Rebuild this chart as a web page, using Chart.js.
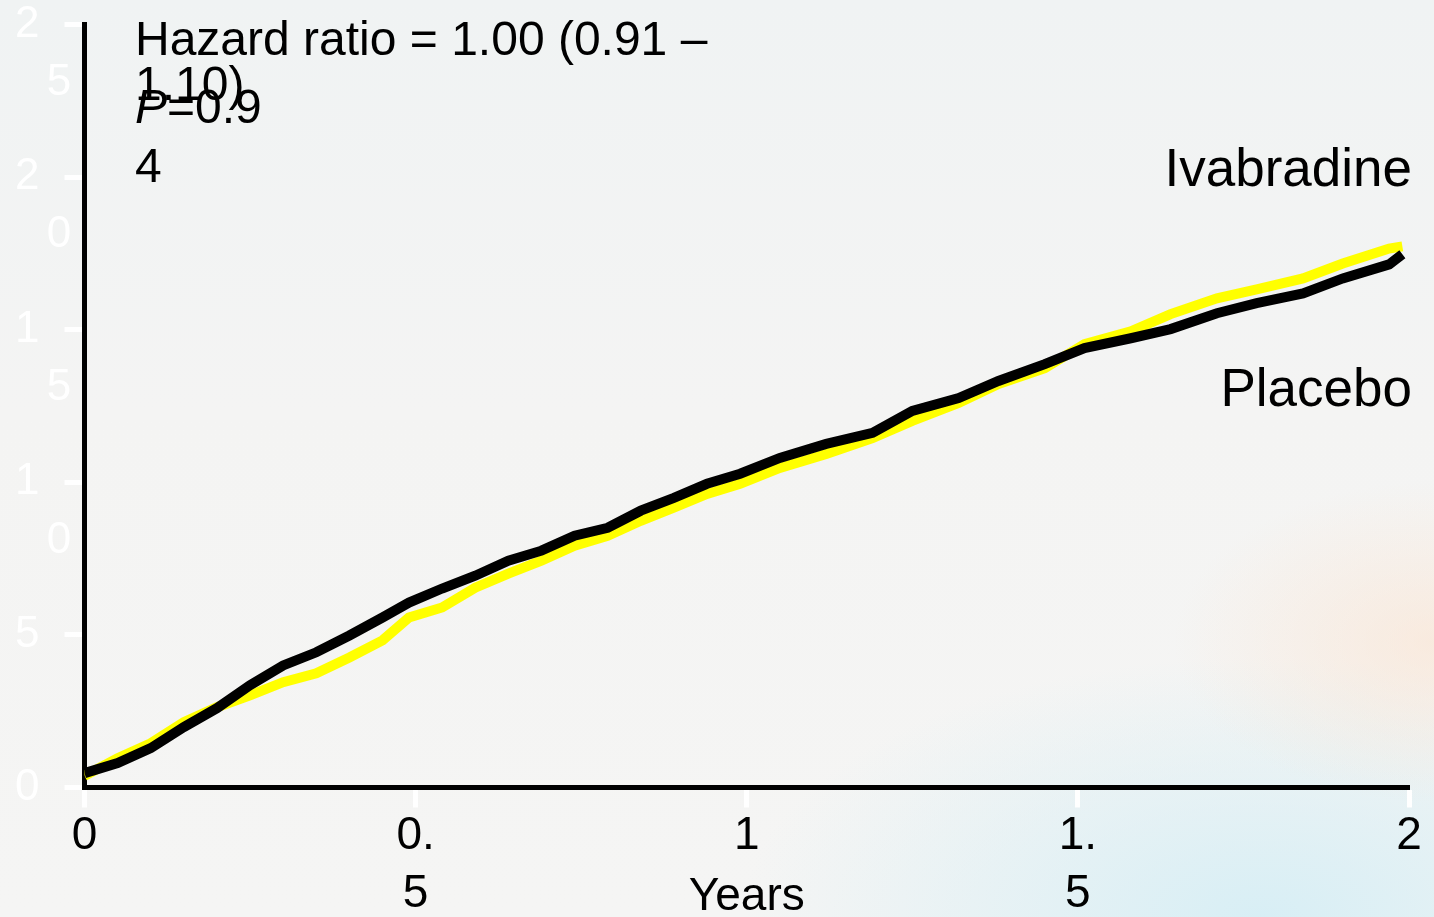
<!DOCTYPE html>
<html>
<head>
<meta charset="utf-8">
<script src="https://cdn.jsdelivr.net/npm/chart.js@4.4.0/dist/chart.umd.min.js"></script>
<style>
  html, body { margin: 0; padding: 0; width: 1434px; height: 917px; overflow: hidden; }
  body {
    background:
      radial-gradient(ellipse 260px 160px at 100% 70%, rgba(252, 226, 205, 0.55), rgba(252, 226, 205, 0) 100%),
      radial-gradient(ellipse 520px 260px at 88% 100%, rgba(214, 238, 245, 0.95), rgba(214, 238, 245, 0) 100%),
      linear-gradient(180deg, #f0f3f3 0%, #f4f4f3 45%, #f5f5f4 100%);
  }
  #wrap { position: relative; width: 1434px; height: 917px; }
  canvas { display: block; }
</style>
</head>
<body>
<div id="wrap"><canvas id="km" width="1434" height="917"></canvas></div>
<script>
// Follow-up time (years) for the plotted cumulative event curves
const years = [0.00, 0.05, 0.10, 0.15, 0.20, 0.25, 0.30, 0.35, 0.40, 0.45,
               0.49, 0.54, 0.59, 0.64, 0.69, 0.74, 0.79, 0.84, 0.89, 0.94,
               0.99, 1.05, 1.12, 1.19, 1.25, 1.32, 1.38, 1.45, 1.51, 1.58,
               1.64, 1.71, 1.77, 1.84, 1.90, 1.97, 1.99];

// Cumulative event rate (%) per arm
const placebo = [0.47, 0.80, 1.29, 1.98, 2.60, 3.35, 4.00, 4.43, 4.98, 5.57,
                 6.06, 6.52, 6.94, 7.43, 7.76, 8.25, 8.51, 9.07, 9.49, 9.95,
                 10.28, 10.80, 11.26, 11.62, 12.34, 12.76, 13.32, 13.87, 14.40, 14.72,
                 15.02, 15.54, 15.87, 16.19, 16.68, 17.14, 17.47];
const ivabradine = [0.38, 0.96, 1.45, 2.14, 2.63, 3.02, 3.45, 3.74, 4.26, 4.82,
                    5.57, 5.90, 6.55, 7.01, 7.43, 7.92, 8.25, 8.74, 9.17, 9.62,
                    9.95, 10.47, 10.93, 11.45, 12.01, 12.60, 13.22, 13.74, 14.53, 14.95,
                    15.51, 16.03, 16.32, 16.68, 17.17, 17.66, 17.73];

// Axis tick labels (wrapped the way the slide shows them)
const xTickLabels = ["0", ["0.", "5"], "1", ["1.", "5"], "2"];
const yTickLabels = ["0", "5",
                     ["", "1", "  \u20060"], ["", "1", "  \u20065"],
                     ["", "2", "  \u20060"], ["", "2", "  \u20065"]];

const FONT = "'Liberation Sans', Arial, Helvetica, sans-serif";

function toPoints(xs, ys) { return xs.map((x, i) => ({ x: x, y: ys[i] })); }

// Statistics text and arm labels
const notesPlugin = {
  id: 'notes',
  afterDraw(chart) {
    const ctx = chart.ctx;
    ctx.save();
    ctx.fillStyle = '#000';
    ctx.textBaseline = 'alphabetic';
    ctx.textAlign = 'left';
    ctx.font = `48px ${FONT}`;
    ctx.fillText('Hazard ratio = 1.00 (0.91 \u2013', 135, 55);
    ctx.fillText('1.10)', 135, 100);
    ctx.font = `italic 48px ${FONT}`;
    ctx.fillText('P', 135, 123);
    const pw = ctx.measureText('P').width;
    ctx.font = `48px ${FONT}`;
    ctx.fillText('=0.9', 135 + pw, 123);
    ctx.fillText('4', 135, 182);
    ctx.textAlign = 'right';
    ctx.font = `53px ${FONT}`;
    ctx.fillText('Ivabradine', 1412, 186);
    ctx.fillText('Placebo', 1412, 406);
    ctx.restore();
  }
};

new Chart(document.getElementById('km'), {
  type: 'line',
  data: {
    datasets: [
      {
        label: 'Placebo',
        data: toPoints(years, placebo),
        borderColor: '#000000',
        borderWidth: 10,
        pointRadius: 0,
        tension: 0,
        fill: false
      },
      {
        label: 'Ivabradine',
        data: toPoints(years, ivabradine),
        borderColor: '#ffff00',
        borderWidth: 10,
        pointRadius: 0,
        tension: 0,
        fill: false
      }
    ]
  },
  options: {
    responsive: false,
    animation: false,
    layout: { padding: { left: 15, top: 24.5, right: 25, bottom: 0 } },
    plugins: { legend: { display: false }, tooltip: { enabled: false } },
    scales: {
      x: {
        type: 'linear',
        min: 0,
        max: 2,
        ticks: {
          stepSize: 0.5,
          autoSkip: false,
          maxRotation: 0,
          padding: 0,
          color: '#000',
          font: { family: FONT, size: 46, lineHeight: 1.26 },
          callback: (v, i) => xTickLabels[i]
        },
        grid: { display: true, drawOnChartArea: false, drawTicks: true, tickLength: 20, tickWidth: 5, tickColor: '#ffffff' },
        border: { display: true, color: '#000', width: 5 },
        title: { display: true, text: 'Years', color: '#000', font: { family: FONT, size: 46, lineHeight: 1.2 }, padding: { top: 0, bottom: -8 } },
        afterFit: (s) => { s.height = 129.5; }
      },
      y: {
        min: 0,
        max: 25,
        ticks: {
          stepSize: 5,
          autoSkip: false,
          padding: 0,
          crossAlign: 'far',
          color: '#ffffff',
          font: { family: FONT, size: 44, lineHeight: 1.32 },
          callback: (v, i) => yTickLabels[i]
        },
        grid: { display: true, drawOnChartArea: false, drawTicks: true, tickLength: 20, tickWidth: 5, tickColor: '#ffffff' },
        border: { display: true, color: '#000', width: 5 },
        afterFit: (s) => { s.width = 69.5; s.paddingTop = 0; s.paddingBottom = 0; }
      }
    }
  },
  plugins: [notesPlugin]
});
</script>
</body>
</html>
